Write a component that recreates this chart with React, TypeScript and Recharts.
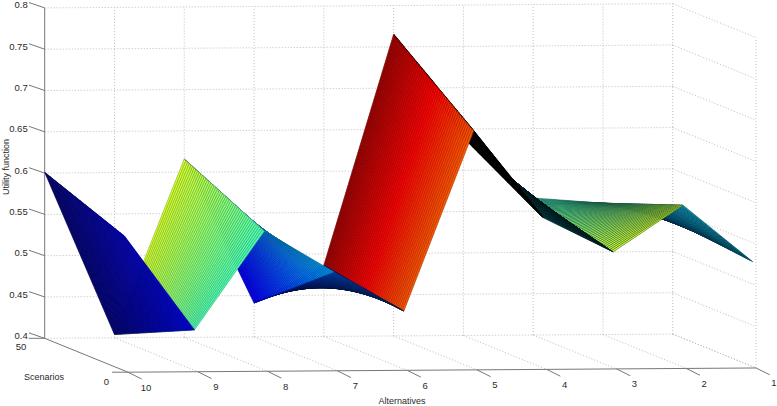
import { ScatterChart, Scatter, XAxis, YAxis } from "recharts";

const WIDTH = 777;
const HEIGHT = 406;

// Alternatives run left to right from 10 to 1
const alternatives = [10, 9, 8, 7, 6, 5, 4, 3, 2, 1];
// Utility at the back (50 scenarios) and front of the surface, per alternative
const utilityBack = [0.601, 0.404, 0.616, 0.441, 0.486, 0.765, 0.64, 0.566, 0.559, 0.538];
const utilityFront = [0.563, 0.449, 0.568, 0.518, 0.47, 0.6875, 0.582, 0.54, 0.596, 0.527];
// Colour index per ribbon (between two neighbouring alternatives)
const colourBack = [0.0, 0.58, 0.12, 0.14, 0.97, 0.75, 0.3, 0.42, 0.25];
const colourFront = [0.11, 0.45, 0.29, 0.22, 0.79, 0.6, 0.35, 0.57, 0.33];
// Mesh line weight and brightness per ribbon, the steep narrow ribbons read almost black
const meshWeight = [0.7, 0.7, 0.7, 0.7, 0.7, 1.2, 0.8, 0.55, 0.6];
const meshShade = [0.6, 0.72, 0.62, 0.25, 0.68, 0, 0.08, 0.3, 0.25];

const utilityTicks = [0.4, 0.45, 0.5, 0.55, 0.6, 0.65, 0.7, 0.75, 0.8];
const utilityLabels = ["0.4", "0.45", "0.5", "0.55", "0.6", "0.65", "0.7", "0.75", "0.8"];
const scenarioFirst = 2;
const scenarioLast = 50;

// Fixed camera of the original 3D plot
function px(alt: number, scen: number) {
  return 44.7 + (10 - alt) * 69.78 + ((50 - scen) / 50) * 83.3;
}
function floorY(alt: number, scen: number) {
  return 338.3 - (10 - alt) * 0.47 + ((50 - scen) / 50) * 33.9;
}
function project(alt: number, scen: number, u: number) {
  return { x: px(alt, scen), y: floorY(alt, scen) - (u - 0.4) * 826 };
}

function jet(v: number, shade = 1) {
  const ch = (d: number) => Math.round(255 * shade * Math.max(0, Math.min(1, 1.5 - Math.abs(4 * v - d))));
  return `rgb(${ch(3)},${ch(2)},${ch(1)})`;
}

// Surface cells, far ones first so nearer ones paint over them
type Cell = { pts: { x: number; y: number }[]; color: string; edge: string; weight: number; depth: number };
const cells: Cell[] = [];
for (let i = 0; i < alternatives.length - 1; i++) {
  const a0 = alternatives[i];
  const a1 = alternatives[i + 1];
  const range = scenarioLast - scenarioFirst;
  for (let s = scenarioFirst; s < scenarioLast; s++) {
    const at = (idx: number, sc: number) => {
      const t = (sc - scenarioFirst) / range;
      return utilityFront[idx] + (utilityBack[idx] - utilityFront[idx]) * t;
    };
    const t = (s + 0.5 - scenarioFirst) / range;
    const v = colourFront[i] + (colourBack[i] - colourFront[i]) * t;
    const c1 = project(a0, s, at(i, s));
    const c2 = project(a1, s, at(i + 1, s));
    const c3 = project(a1, s + 1, at(i + 1, s + 1));
    const c4 = project(a0, s + 1, at(i, s + 1));
    cells.push({
      pts: [c1, c2, c3, c4, c1],
      color: jet(v),
      edge: jet(v, meshShade[i]),
      weight: meshWeight[i],
      depth: floorY((a0 + a1) / 2, s + 0.5),
    });
  }
}
cells.sort((a, b) => a.depth - b.depth);

type Seg = { x: number; y: number }[];
const gridLines: Seg[] = [];
utilityTicks.forEach((u) => {
  gridLines.push([project(10, 50, u), project(1, 50, u)]);
  gridLines.push([project(1, 50, u), project(1, 0, u)]);
});
alternatives.forEach((a) => {
  if (a !== 10) gridLines.push([project(a, 50, 0.4), project(a, 50, 0.8)]);
  if (a !== 10) gridLines.push([project(a, 50, 0.4), project(a, 0, 0.4)]);
});
gridLines.push([project(1, 0, 0.4), project(1, 0, 0.8)]);

const axisLines: Seg[] = [
  [project(10, 50, 0.4), project(10, 50, 0.8)],
  [project(10, 50, 0.4), project(10, 0, 0.4)],
  [project(10, 0, 0.4), project(1, 0, 0.4)],
];
utilityTicks.forEach((u) => {
  const p = project(10, 50, u);
  axisLines.push([p, { x: p.x - 15.7, y: p.y - 5.4 }]);
});
alternatives.forEach((a) => {
  const p = project(a, 0, 0.4);
  axisLines.push([p, { x: p.x + 13.7, y: p.y + 6.8 }]);
});
[50, 0].forEach((s) => {
  const p = project(10, s, 0.4);
  axisLines.push([p, { x: p.x - 16, y: p.y }]);
});

type Label = { x: number; y: number; text: string; anchor: string; rotate?: number; size?: number };
const labels: Label[] = [
  ...utilityTicks.map((u, i) => {
    const p = project(10, 50, u);
    return { x: 27.7, y: p.y - 3, text: utilityLabels[i], anchor: "end" };
  }),
  ...alternatives.map((a) => {
    const p = project(a, 0, 0.4);
    return { x: p.x + 18, y: p.y + 15, text: String(a), anchor: "middle" };
  }),
  { x: 21, y: 346, text: "50", anchor: "middle" },
  { x: 106.5, y: 381, text: "0", anchor: "middle" },
  { x: 44, y: 376.5, text: "Scenarios", anchor: "middle", size: 9 },
  { x: 402, y: 401, text: "Alternatives", anchor: "middle", size: 9 },
  { x: 6, y: 167, text: "Utility function", anchor: "middle", size: 9, rotate: -90 },
];

const noDot = () => <g />;

function LabelText(props: any) {
  const { cx, cy, payload } = props;
  return (
    <text
      x={cx}
      y={cy}
      textAnchor={payload.anchor}
      dominantBaseline="central"
      fontFamily="Liberation Sans, Arial, sans-serif"
      fontSize={payload.size ?? 9.5}
      fill="#2a2a2a"
      transform={payload.rotate ? `rotate(${payload.rotate} ${cx} ${cy})` : undefined}
    >
      {payload.text}
    </text>
  );
}

export default function App() {
  return (
    <div style={{ position: "absolute", left: 0, top: 0, width: WIDTH, height: HEIGHT, background: "#fff" }}>
      <ScatterChart width={WIDTH} height={HEIGHT} margin={{ top: 0, right: 0, bottom: 0, left: 0 }}>
        <XAxis type="number" dataKey="x" domain={[0, WIDTH]} hide />
        <YAxis type="number" dataKey="y" domain={[0, HEIGHT]} reversed hide />
        {gridLines.map((seg, i) => (
          <Scatter
            key={`grid-${i}`}
            data={seg}
            shape={noDot}
            line={{ stroke: "#bcbcbc", strokeWidth: 1, strokeDasharray: "1 2" }}
            isAnimationActive={false}
          />
        ))}
        {axisLines.map((seg, i) => (
          <Scatter
            key={`axis-${i}`}
            data={seg}
            shape={noDot}
            line={{ stroke: "#777", strokeWidth: 1 }}
            isAnimationActive={false}
          />
        ))}
        {cells.map((cell, i) => (
          <Scatter
            key={`cell-${i}`}
            data={cell.pts}
            shape={noDot}
            line={{ fill: cell.color, stroke: cell.edge, strokeWidth: cell.weight }}
            isAnimationActive={false}
          />
        ))}
        <Scatter data={labels} shape={LabelText} isAnimationActive={false} />
      </ScatterChart>
    </div>
  );
}
